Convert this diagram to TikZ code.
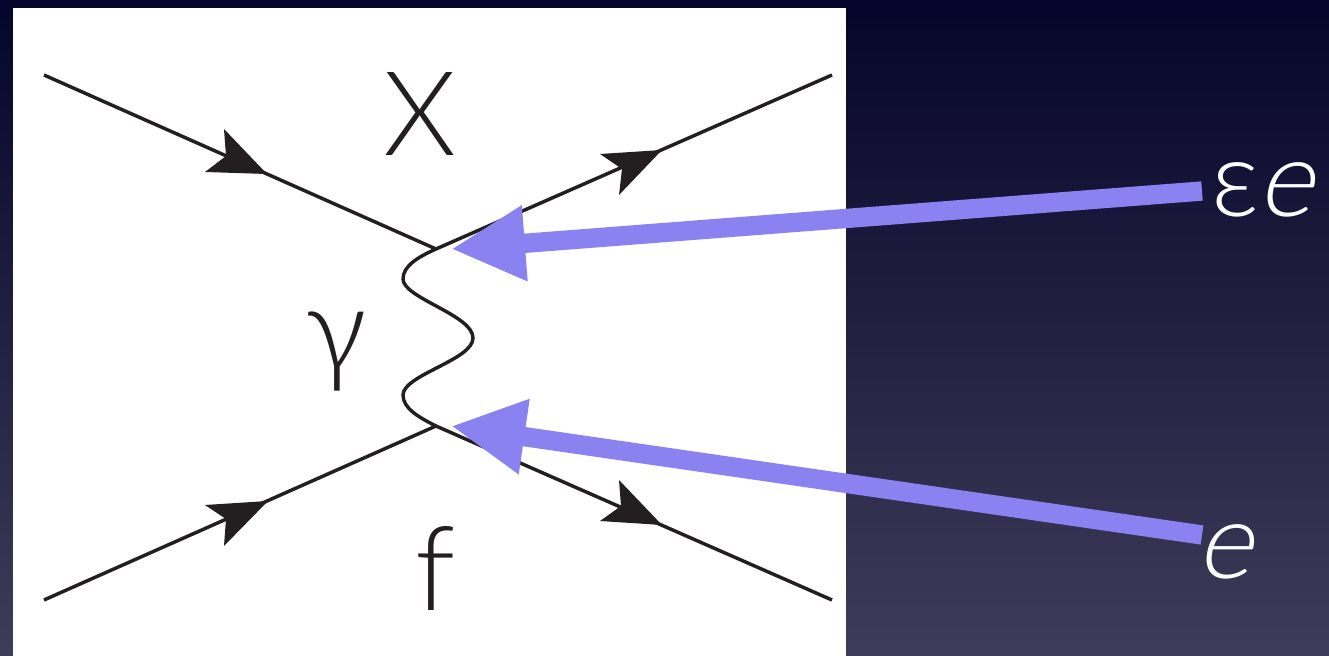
\documentclass[tikz,border=0pt]{standalone}
\usepackage{fontspec}
\usetikzlibrary{arrows.meta}
\setmainfont{Lato Light}
\newfontface\slantface{Lato Light}[FakeSlant=0.22]
\definecolor{bgtop}{HTML}{05042A}
\definecolor{bgbot}{HTML}{3E3C58}
\definecolor{inkblack}{HTML}{231F20}
\definecolor{pointer}{HTML}{8A82F0}
\tikzset{
  fermion/.style={draw=inkblack,line width=2.6pt},
  barb/.style={fill=inkblack,draw=none},
  photon/.style={draw=inkblack,line width=2.6pt,line cap=round},
  pointerline/.style={draw=pointer,line width=14.5pt,-{Triangle[length=55.5pt,width=53pt,fill=pointer]}},
  darklabel/.style={text=inkblack,font=\fontsize{88}{88}\selectfont,inner sep=0pt},
  whitelabel/.style={text=white,font=\fontsize{80}{80}\selectfont,inner sep=0pt,anchor=base west}
}
\begin{document}
\begin{tikzpicture}[x=0.75pt,y=-0.75pt]
\useasboundingbox (0,0) rectangle (1329,656);
\shade[top color=bgtop,bottom color=bgbot] (0,0) rectangle (1329,656);
\fill[white] (13,8) rectangle (846,656);
% vertices and free ends
\coordinate (vt) at (436,249);
\coordinate (vb) at (436,426);
\coordinate (tl) at (44,75);
\coordinate (tr) at (832,75);
\coordinate (bl) at (44,600);
\coordinate (br) at (832,600);
% fermion lines
\draw[fermion] (tl) -- (vt);
\draw[fermion] (vt) -- (tr);
\draw[fermion] (bl) -- (vb);
\draw[fermion] (vb) -- (br);
% arrowheads
\fill[barb] (267,174) -- (224,129) -- (226,156) -- (205,172) -- cycle;
\fill[barb] (662,150) -- (600,154) -- (622,169) -- (619,195) -- cycle;
\fill[barb] (268,501) -- (205,505) -- (226,519) -- (224,546) -- cycle;
\fill[barb] (662,525) -- (619,480) -- (621,506) -- (600,521) -- cycle;
% photon
\draw[photon] (vt) .. controls (418,257) and (403,266) .. (403,279)
  .. controls (403,298) and (473,315) .. (473,338)
  .. controls (473,360) and (403,375) .. (403,395)
  .. controls (403,408) and (418,417) .. (vb);
% labels
\node[darklabel] (X) at (420,114) {X};
\node[darklabel] (g) at (336,352) {γ};
\node[darklabel] (f) at (435,568) {f};
\node[whitelabel] (ee) at (1211,217) {ε\kern-1pt\slantface e};
\node[whitelabel] (e) at (1196,578) {\slantface e};
% pointers
\coordinate (ps) at (1202,191);
\coordinate (pe) at (451,249);
\coordinate (qs) at (1202,535);
\coordinate (qe) at (451,426);
\draw[pointerline] (ps) -- (pe);
\draw[pointerline] (qs) -- (qe);
\end{tikzpicture}
\end{document}
